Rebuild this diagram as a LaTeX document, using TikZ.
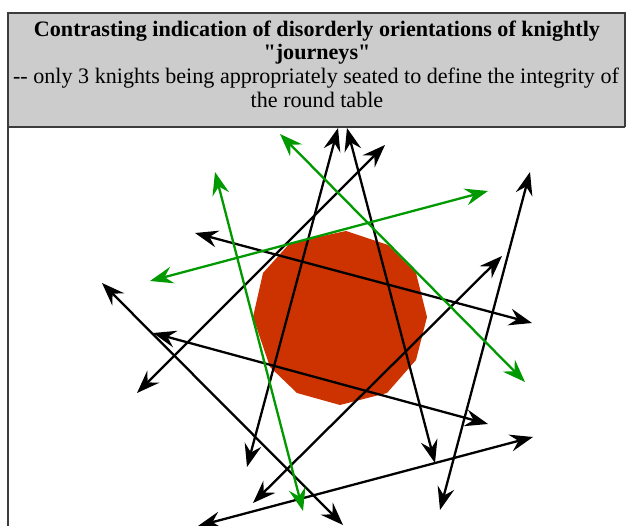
\documentclass[tikz,border=0pt]{standalone}
\usepackage{fontspec}
\setmainfont[Ligatures=TeXOff]{Liberation Serif}
\usetikzlibrary{arrows.meta}
\definecolor{tablered}{HTML}{CC3300}
\definecolor{knightgreen}{HTML}{009900}
\definecolor{headgray}{HTML}{CCCCCC}
\definecolor{framegray}{HTML}{3C3C3C}
\begin{document}
\begin{tikzpicture}[x=1pt,y=-1pt,
  tip/.tip={Stealth[length=23pt,width=17pt,inset=8pt]},
  knight/.style={line width=2.3pt, black, tip-tip},
  seated/.style={line width=2.3pt, knightgreen, tip-tip},
  headtext/.style={anchor=base, inner sep=0pt, font=\fontsize{22.1}{27}\selectfont}]
\useasboundingbox (0,0) rectangle (626,526);
% header
\fill[headgray] (7.5,13) rectangle (625,127);
\draw[framegray, line width=2pt] (625,127) -- (625,13) -- (7.5,13) -- (7.5,526);
\draw[framegray, line width=1.5pt] (7.5,127) -- (625,127);
\node[headtext] (t1) at (317,37) {\bfseries Contrasting indication of disorderly orientations of knightly};
\node[headtext] (t2) at (317,60) {\bfseries "journeys"};
\node[headtext] (t3) at (316,84) {-- only 3 knights being appropriately seated to define the integrity of};
\node[headtext] (t4) at (317,108) {the round table};
% round table
\fill[tablered] (346,231) -- (388,245) -- (416,273) -- (427,317) -- (416,360) -- (387,393)
  -- (340,405) -- (297,393) -- (270,367) -- (253,317) -- (263,273) -- (290,243) -- cycle;
% endpoints
\coordinate (a1) at (102,283);  \coordinate (a2) at (343,525);
\coordinate (b1) at (137,393);  \coordinate (b2) at (385,145);
\coordinate (c1) at (253,503);  \coordinate (c2) at (502,256);
\coordinate (d1) at (195,233);  \coordinate (d2) at (532,323);
\coordinate (e1) at (153,333);  \coordinate (e2) at (488,424);
\coordinate (f1) at (198,526);  \coordinate (f2) at (533,437);
\coordinate (h1) at (247,467);  \coordinate (h2) at (338,128);
\coordinate (i1) at (435,463);  \coordinate (i2) at (347,128);
\coordinate (j1) at (440,510);  \coordinate (j2) at (530,172);
\coordinate (g1) at (280,134);  \coordinate (g2) at (525,382);
\coordinate (g3) at (150,281);  \coordinate (g4) at (488,191);
\coordinate (g5) at (215,172);  \coordinate (g6) at (303,511);
% journeys
\draw[knight] (a1) -- (a2);
\draw[knight] (b1) -- (b2);
\draw[knight] (c1) -- (c2);
\draw[knight] (d1) -- (d2);
\draw[knight] (e1) -- (e2);
\draw[knight] (f1) -- (f2);
\draw[knight] (h1) -- (h2);
\draw[knight] (i1) -- (i2);
\draw[knight] (j1) -- (j2);
\draw[seated] (g1) -- (g2);
\draw[seated] (g3) -- (g4);
\draw[seated] (g5) -- (g6);
\end{tikzpicture}
\end{document}
